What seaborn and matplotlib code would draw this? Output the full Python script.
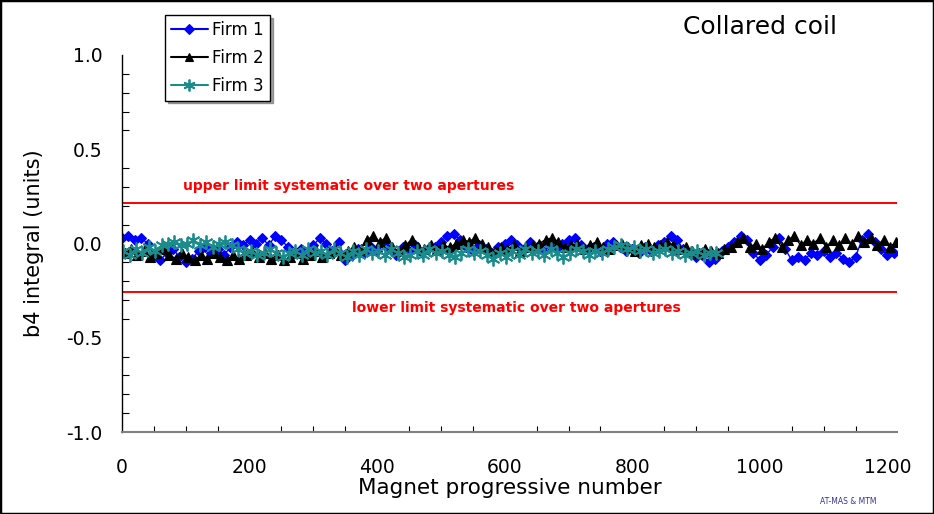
import matplotlib
matplotlib.use("Agg")
import matplotlib.pyplot as plt
import seaborn as sns
import pandas as pd
from matplotlib.lines import Line2D
from matplotlib.patches import Rectangle
from matplotlib.ticker import MultipleLocator

# ---------------- data ----------------
firm1_x = [0, 10, 20, 30, 40, 50, 60, 70, 80, 90,
           100, 110, 120, 130, 140, 150, 160, 170, 180, 190,
           200, 210, 220, 230, 240, 250, 260, 270, 280, 290,
           300, 310, 320, 330, 340, 350, 360, 370, 380, 390,
           400, 410, 420, 430, 440, 450, 460, 470, 480, 490,
           500, 510, 520, 530, 540, 550, 560, 570, 580, 590,
           600, 610, 620, 630, 640, 650, 660, 670, 680, 690,
           700, 710, 720, 730, 740, 750, 760, 770, 780, 790,
           800, 810, 820, 830, 840, 850, 860, 870, 880, 890,
           900, 910, 920, 930, 940, 950, 960, 970, 980, 990,
           1000, 1010, 1020, 1030, 1040, 1050, 1060, 1070, 1080, 1090,
           1100, 1110, 1120, 1130, 1140, 1150, 1160, 1170, 1180, 1190,
           1200, 1210]
firm1_y = [0.03, 0.04, 0.02, 0.03, 0.00, -0.06, -0.09, -0.05, -0.03, -0.07,
           -0.10, -0.08, -0.04, -0.02, -0.05, -0.03, -0.06, -0.02, 0.01, -0.01,
           0.02, 0.00, 0.03, -0.01, 0.04, 0.02, -0.02, -0.05, -0.03, -0.06,
           -0.01, 0.03, 0.00, -0.04, 0.01, -0.09, -0.06, -0.03, -0.05, -0.02,
           -0.04, -0.01, -0.03, -0.06, -0.02, -0.04, -0.01, -0.05, -0.03, -0.02,
           0.01, 0.04, 0.05, 0.02, -0.02, -0.04, -0.01, -0.03, -0.05, -0.02,
           0.00, 0.02, -0.01, -0.03, 0.01, -0.02, -0.04, -0.01, -0.03, 0.00,
           0.02, 0.03, -0.01, -0.03, -0.02, -0.04, 0.00, 0.01, -0.02, -0.04,
           -0.03, -0.05, -0.02, -0.04, -0.01, 0.01, 0.04, 0.02, -0.03, -0.05,
           -0.07, -0.06, -0.10, -0.08, -0.04, -0.02, 0.01, 0.04, 0.02, -0.05,
           -0.09, -0.06, -0.02, 0.03, -0.03, -0.09, -0.07, -0.09, -0.05, -0.06,
           -0.04, -0.07, -0.05, -0.08, -0.10, -0.07, 0.02, 0.05, 0.01, -0.03,
           -0.06, -0.05]

firm2_x = [4, 14, 24, 34, 44, 54, 64, 74, 84, 94,
           104, 114, 124, 134, 144, 154, 164, 174, 184, 194,
           204, 214, 224, 234, 244, 254, 264, 274, 284, 294,
           304, 314, 324, 334, 344, 354, 364, 374, 384, 394,
           404, 414, 424, 434, 444, 454, 464, 474, 484, 494,
           504, 514, 524, 534, 544, 554, 564, 574, 584, 594,
           604, 614, 624, 634, 644, 654, 664, 674, 684, 694,
           704, 714, 724, 734, 744, 754, 764, 774, 784, 794,
           804, 814, 824, 834, 844, 854, 864, 874, 884, 894,
           904, 914, 924, 934, 944, 954, 964, 974, 984, 994,
           1004, 1014, 1024, 1034, 1044, 1054, 1064, 1074, 1084, 1094,
           1104, 1114, 1124, 1134, 1144, 1154, 1164, 1174, 1184, 1194,
           1204, 1214]
firm2_y = [-0.05, -0.03, -0.06, -0.04, -0.07, -0.05, -0.03, -0.06, -0.08, -0.05,
           -0.07, -0.09, -0.06, -0.08, -0.05, -0.07, -0.09, -0.06, -0.08, -0.06,
           -0.04, -0.07, -0.05, -0.08, -0.06, -0.09, -0.07, -0.05, -0.08, -0.06,
           -0.04, -0.07, -0.05, -0.03, -0.06, -0.04, -0.02, -0.03, 0.02, 0.04,
           0.01, 0.03, -0.02, -0.04, -0.01, 0.02, -0.02, -0.03, -0.01, -0.03,
           -0.01, -0.02, 0.00, 0.02, 0.01, 0.03, 0.00, -0.02, -0.04, -0.02,
           -0.03, -0.01, -0.04, -0.02, -0.01, 0.00, 0.02, 0.03, 0.01, -0.02,
           -0.01, 0.00, -0.03, -0.01, 0.01, -0.02, -0.03, -0.01, 0.00, -0.02,
           -0.04, -0.01, 0.00, -0.02, -0.01, 0.01, -0.01, -0.03, -0.02, -0.04,
           -0.05, -0.03, -0.04, -0.05, -0.03, -0.02, 0.01, 0.03, -0.02, 0.00,
           -0.03, 0.01, 0.03, -0.02, 0.02, 0.04, -0.01, 0.02, 0.00, 0.03,
           -0.02, 0.02, -0.01, 0.03, 0.00, 0.04, 0.01, 0.03, -0.01, 0.02,
           -0.02, 0.01]

firm3_x = [2, 12, 22, 32, 42, 52, 62, 72, 82, 92,
           102, 112, 122, 132, 142, 152, 162, 172, 182, 192,
           202, 212, 222, 232, 242, 252, 262, 272, 282, 292,
           302, 312, 322, 332, 342, 352, 362, 372, 382, 392,
           402, 412, 422, 432, 442, 452, 462, 472, 482, 492,
           502, 512, 522, 532, 542, 552, 562, 572, 582, 592,
           602, 612, 622, 632, 642, 652, 662, 672, 682, 692,
           702, 712, 722, 732, 742, 752, 762, 772, 782, 792,
           802, 812, 822, 832, 842, 852, 862, 872, 882, 892,
           902, 912, 922, 932]
firm3_y = [-0.04, -0.06, -0.03, -0.05, -0.02, -0.04, -0.01, 0.00, 0.01, -0.01,
           0.00, 0.02, -0.01, 0.01, -0.02, 0.00, 0.01, -0.01, -0.03, -0.05,
           -0.04, -0.06, -0.05, -0.03, -0.05, -0.07, -0.05, -0.04, -0.06, -0.03,
           -0.05, -0.04, -0.06, -0.03, -0.05, -0.07, -0.04, -0.06, -0.03, -0.05,
           -0.04, -0.06, -0.03, -0.05, -0.07, -0.06, -0.04, -0.06, -0.03, -0.05,
           -0.04, -0.06, -0.07, -0.05, -0.03, -0.05, -0.04, -0.06, -0.08, -0.05,
           -0.07, -0.04, -0.06, -0.03, -0.05, -0.04, -0.06, -0.03, -0.05, -0.07,
           -0.05, -0.03, -0.04, -0.06, -0.04, -0.05, -0.03, -0.02, -0.01, -0.03,
           -0.02, -0.04, -0.03, -0.05, -0.04, -0.03, -0.05, -0.04, -0.06, -0.05,
           -0.04, -0.06, -0.05, -0.05]

series_names = ["Firm 1", "Firm 2", "Firm 3"]
upper_limit = 0.215
lower_limit = -0.255
upper_text = "upper limit systematic over two apertures"
lower_text = "lower limit systematic over two apertures"
title_text = "Collared coil"
credit_text = "AT-MAS & MTM"
x_label = "Magnet progressive number"
y_label = "b4 integral (units)"

# ---------------- style ----------------
sns.set_theme(style="white")
plt.rcParams["font.family"] = ["DejaVu Sans"]
plt.rcParams["text.color"] = "black"
plt.rcParams["axes.labelcolor"] = "black"
plt.rcParams["xtick.color"] = "black"
plt.rcParams["ytick.color"] = "black"

fig = plt.figure(figsize=(9.34, 5.14), dpi=100)
ax = fig.add_axes([122 / 934, 1 - 432 / 514, 775 / 934, 377 / 514])

styles = [
    dict(color="#0000FF", marker="D", markersize=5.5, markeredgewidth=0.8),
    dict(color="#000000", marker="^", markersize=7.5, markeredgewidth=0.8),
    dict(color="#1A8C8C", marker=(6, 2, 0), markersize=10, markeredgewidth=1.3),
]
data = [(firm1_x, firm1_y), (firm2_x, firm2_y), (firm3_x, firm3_y)]

handles = []
for (xs, ys), name, st in zip(data, series_names, styles):
    df = pd.DataFrame({"x": xs, "y": ys})
    sns.lineplot(data=df, x="x", y="y", ax=ax, estimator=None, sort=False,
                 color=st["color"], linewidth=1.0, marker=st["marker"],
                 markersize=st["markersize"], markeredgecolor=st["color"],
                 markerfacecolor=st["color"], markeredgewidth=st["markeredgewidth"],
                 legend=False)
    handles.append(Line2D([0], [0], color=st["color"], linewidth=1.5,
                          marker=st["marker"], markersize=st["markersize"] * 0.85,
                          markeredgecolor=st["color"], markerfacecolor=st["color"],
                          markeredgewidth=st["markeredgewidth"]))

ax.axhline(upper_limit, color="#FF0000", linewidth=1.4, zorder=1)
ax.axhline(lower_limit, color="#FF0000", linewidth=1.4, zorder=1)

ax.text(356, upper_limit + 0.09, upper_text, color="#FF0000", fontsize=10,
        fontweight="bold", ha="center", va="center")
ax.text(619, lower_limit - 0.087, lower_text, color="#FF0000", fontsize=10,
        fontweight="bold", ha="center", va="center")

ax.set_xlim(0, 1215)
ax.set_ylim(-1.0, 1.0)
ax.xaxis.set_major_locator(MultipleLocator(200))
ax.xaxis.set_minor_locator(MultipleLocator(50))
ax.yaxis.set_major_locator(MultipleLocator(0.5))
ax.yaxis.set_minor_locator(MultipleLocator(0.1))
ax.yaxis.set_major_formatter(plt.FuncFormatter(lambda v, p: f"{v:.1f}"))

for s in ["top", "right"]:
    ax.spines[s].set_visible(False)
ax.spines["left"].set_color("black")
ax.spines["left"].set_linewidth(1.0)
ax.spines["bottom"].set_color("#808080")
ax.spines["bottom"].set_linewidth(1.5)

ax.tick_params(axis="both", which="both", direction="in", color="black",
               labelcolor="black")
ax.tick_params(axis="y", which="major", length=6, width=1, pad=14, labelsize=13.5)
ax.tick_params(axis="y", which="minor", length=5, width=0.8, left=True)
ax.tick_params(axis="x", which="major", length=6, width=1, pad=19, labelsize=13.5)
ax.tick_params(axis="x", which="minor", length=4, width=0.8, bottom=True)

ax.set_xlabel(x_label, fontsize=15.5, color="black")
ax.set_ylabel(y_label, fontsize=15, color="black")
ax.xaxis.set_label_coords(0.5, -0.122)
ax.yaxis.set_label_coords(-0.10, 0.5)

leg = fig.legend(handles, series_names, loc="upper left",
                 bbox_to_anchor=(165 / 934, 1 - 15 / 514), frameon=True,
                 fancybox=False, shadow=True, edgecolor="black", framealpha=1,
                 fontsize=12, handlelength=2.2, borderpad=0.35, labelspacing=0.6,
                 handletextpad=0.3, borderaxespad=0)
leg.get_frame().set_linewidth(1.0)
for t in leg.get_texts():
    t.set_color("black")

fig.text(760 / 934, 1 - 27 / 514, title_text, fontsize=18, ha="center",
         va="center", color="black")
fig.text(848 / 934, 1 - 502 / 514, credit_text, fontsize=5.5, color="#333399",
         ha="center", va="center")

fig.patches.append(Rectangle((0, 0), 1, 1, transform=fig.transFigure, fill=False,
                             edgecolor="black", linewidth=2.5, zorder=10))

fig.savefig("out.png", dpi=100)
